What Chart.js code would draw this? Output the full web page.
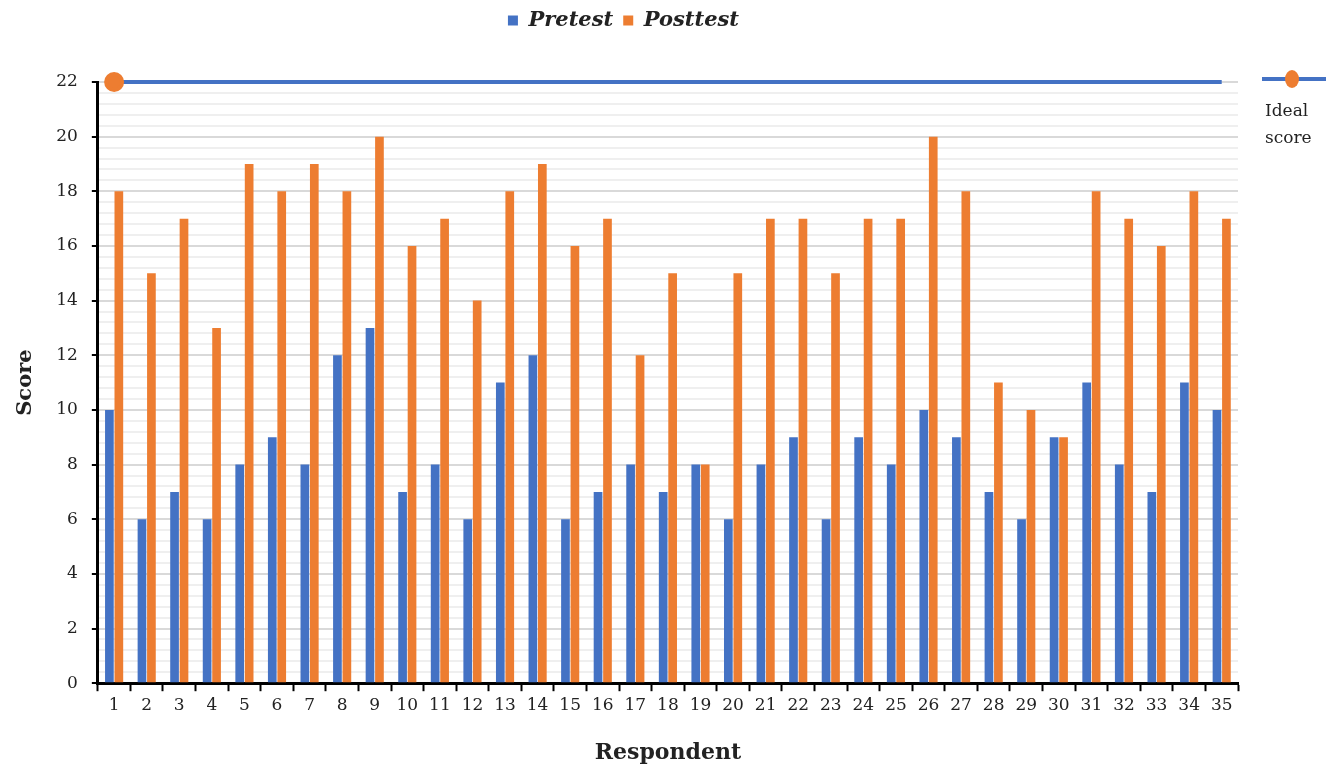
<!DOCTYPE html>
<html>
<head>
<meta charset="utf-8">
<script src="https://cdn.jsdelivr.net/npm/chart.js@4"></script>
<style>
  html, body { margin: 0; padding: 0; background: #fff; }
  #wrap { width: 1333px; height: 771px; }
</style>
</head>
<body>
<div id="wrap"><canvas id="scoreChart"></canvas></div>
<script>
// -- data --
const respondents = Array.from({ length: 35 }, (_, i) => String(i + 1));
const pretestScores = [10, 6, 7, 6, 8, 9, 8, 12, 13, 7, 8, 6, 11, 12, 6, 7, 8, 7, 8, 6,
                       8, 9, 6, 9, 8, 10, 9, 7, 6, 9, 11, 8, 7, 11, 10];
const posttestScores = [18, 15, 17, 13, 19, 18, 19, 18, 20, 16, 17, 14, 18, 19, 16, 17, 12, 15, 8, 15,
                        17, 17, 15, 17, 17, 20, 18, 11, 10, 9, 18, 17, 16, 18, 17];
const idealScore = respondents.map(() => 22);

const BLUE = '#4472C4';
const ORANGE = '#ED7D31';
const FONT = "'DejaVu Serif', 'Liberation Serif', serif";

// is this tick a labelled (major) one? every 2 points
function isMajor(v) {
    return Math.abs(v / 2 - Math.round(v / 2)) < 1e-6;
}

// -- push the plot down below the top legend --
const legendGap = {
    id: 'legendGap',
    beforeInit(chart) {
        const fit = chart.legend.fit;
        chart.legend.fit = function () {
            fit.bind(chart.legend)();
            this.height += 41;
        };
    }
};

// -- side legend for the ideal score line --
const idealLegend = {
    id: 'idealLegend',
    afterDraw(chart) {
        const ctx = chart.ctx;
        const y = chart.scales.y.getPixelForValue(22);
        ctx.save();
        ctx.strokeStyle = BLUE;
        ctx.lineWidth = 4;
        ctx.beginPath();
        ctx.moveTo(1262, y - 3);
        ctx.lineTo(1326, y - 3);
        ctx.stroke();
        ctx.fillStyle = ORANGE;
        ctx.beginPath();
        ctx.ellipse(1292, y - 3, 7, 9, 0, 0, Math.PI * 2);
        ctx.fill();
        ctx.fillStyle = '#222';
        ctx.font = '17px ' + FONT;
        ctx.textAlign = 'left';
        ctx.textBaseline = 'middle';
        ctx.fillText('Ideal', 1265, y + 30);
        ctx.fillText('score', 1265, y + 57);
        ctx.restore();
    }
};

new Chart(document.getElementById('scoreChart'), {
    data: {
        labels: respondents,
        datasets: [
            {
                type: 'line',
                label: 'Ideal score',
                data: idealScore,
                borderColor: BLUE,
                borderWidth: 4,
                pointRadius: idealScore.map((_, i) => i === 0 ? 8 : 0),
                pointBackgroundColor: ORANGE,
                pointBorderColor: ORANGE,
                clip: false,
                order: 0
            },
            {
                type: 'bar',
                label: 'Pretest',
                data: pretestScores,
                backgroundColor: BLUE,
                categoryPercentage: 0.58,
                barPercentage: 0.92,
                order: 1
            },
            {
                type: 'bar',
                label: 'Posttest',
                data: posttestScores,
                backgroundColor: ORANGE,
                categoryPercentage: 0.58,
                barPercentage: 0.92,
                order: 1
            }
        ]
    },
    options: {
        responsive: true,
        maintainAspectRatio: false,
        animation: false,
        layout: { padding: { left: 9, right: 95, top: 0, bottom: 1 } },
        plugins: {
            tooltip: { enabled: false },
            legend: {
                position: 'top',
                labels: {
                    filter: item => item.text !== 'Ideal score',
                    boxWidth: 10,
                    boxHeight: 10,
                    color: '#222',
                    padding: 10,
                    font: { family: FONT, size: 21, style: 'italic', weight: 'bold' }
                }
            }
        },
        scales: {
            x: {
                grid: {
                    offset: true,
                    drawOnChartArea: false,
                    drawTicks: true,
                    tickLength: 8,
                    tickColor: '#000',
                    tickWidth: 2
                },
                border: { color: '#000', width: 3 },
                ticks: { color: '#222', padding: 4, font: { family: FONT, size: 17 }, maxRotation: 0, autoSkip: false },
                title: {
                    display: true,
                    text: 'Respondent',
                    color: '#222',
                    padding: { top: 20 },
                    font: { family: FONT, size: 22, weight: 'bold' }
                }
            },
            y: {
                min: 0,
                max: 22,
                ticks: {
                    stepSize: 0.4,
                    autoSkip: false,
                    color: '#222',
                    padding: 14,
                    font: { family: FONT, size: 17 },
                    callback: v => isMajor(v) ? String(Math.round(v)) : ''
                },
                grid: {
                    color: c => isMajor(c.tick.value) ? '#d9d9d9' : '#efefef',
                    lineWidth: 2,
                    tickLength: 6,
                    tickWidth: 2,
                    tickColor: c => isMajor(c.tick.value) ? '#000' : 'rgba(0,0,0,0)'
                },
                border: { color: '#000', width: 3 },
                title: {
                    display: true,
                    text: 'Score',
                    color: '#222',
                    font: { family: FONT, size: 21, weight: 'bold' }
                }
            }
        }
    },
    plugins: [legendGap, idealLegend]
});
</script>
</body>
</html>
